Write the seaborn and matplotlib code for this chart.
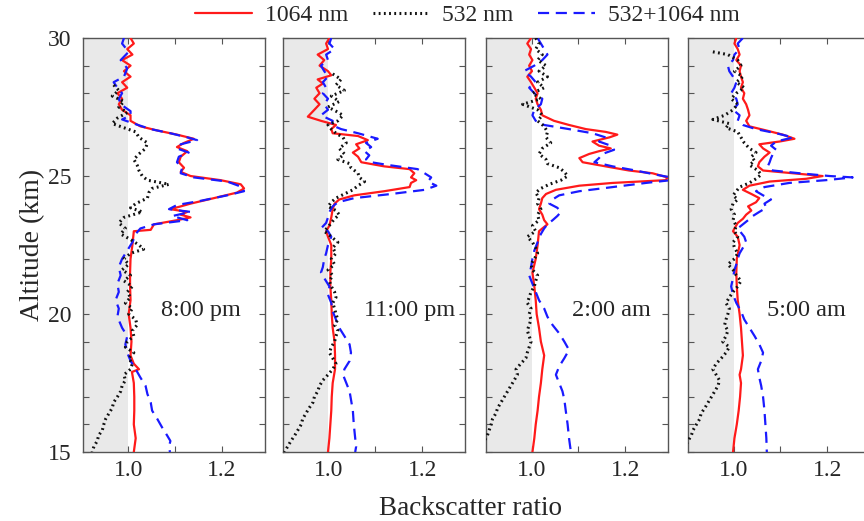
import matplotlib
matplotlib.use("Agg")
import matplotlib.pyplot as plt
from matplotlib.ticker import MultipleLocator, FixedLocator
import seaborn as sns

# ---- data: altitude (km) and backscatter ratio ----
times = ["8:00 pm", "11:00 pm", "2:00 am", "5:00 am"]

# 8:00 pm
alt_r1 = [30.0, 29.8, 29.6, 29.4, 29.2, 29.0, 28.8, 28.6, 28.4, 28.2, 28.0, 27.8, 27.6, 27.4, 27.2, 27.0,
          26.8, 26.65, 26.5, 26.35, 26.2, 26.05, 25.9, 25.7, 25.5, 25.3, 25.15, 25.0, 24.85, 24.7, 24.55,
          24.4, 24.2, 24.0, 23.9, 23.8, 23.7, 23.6, 23.5, 23.4, 23.25, 23.05, 23.0, 22.5, 22.0, 21.5, 21.0,
          20.5, 20.0, 19.5, 19.0, 18.5, 18.2, 18.0, 17.9, 17.5, 17.0, 16.5, 16.0, 15.5, 15.0]
br_r1 = [1.005, 1.012, 0.998, 1.009, 0.987, 1.005, 0.991, 1.005, 0.987, 0.998, 0.977, 0.987, 0.980, 0.987,
         1.005, 1.005, 1.026, 1.062, 1.104, 1.140, 1.119, 1.104, 1.126, 1.112, 1.108, 1.119, 1.112, 1.133,
         1.197, 1.240, 1.247, 1.232, 1.183, 1.133, 1.112, 1.090, 1.126, 1.112, 1.133, 1.104, 1.055, 1.048,
         1.012, 1.009, 1.005, 1.004, 1.004, 1.005, 1.001, 1.005, 1.007, 1.005, 1.012, 1.023, 1.008, 1.012,
         1.013, 1.013, 1.012, 1.016, 1.012]
alt_b1 = [30.0, 29.8, 29.5, 29.2, 28.9, 28.6, 28.4, 28.2, 28.0, 27.8, 27.6, 27.35, 27.2, 27.05, 26.9, 26.7,
          26.55, 26.4, 26.3, 26.15, 26.0, 25.85, 25.7, 25.5, 25.3, 25.1, 24.95, 24.8, 24.6, 24.45, 24.3,
          24.1, 23.95, 23.8, 23.7, 23.55, 23.4, 23.25, 23.1, 22.9, 22.6, 22.3, 22.0, 21.7, 21.4, 21.1, 20.8,
          20.5, 20.2, 19.9, 19.5, 19.2, 18.9, 18.6, 18.3, 18.0, 17.7, 17.4, 17.1, 16.8, 16.5, 16.2, 15.9,
          15.6, 15.4, 15.2, 15.0]
br_b1 = [0.991, 0.987, 1.001, 0.984, 0.998, 0.991, 0.969, 0.977, 0.987, 0.980, 0.984, 1.005, 1.005, 0.987,
         1.012, 1.048, 1.090, 1.126, 1.147, 1.112, 1.104, 1.129, 1.108, 1.104, 1.115, 1.112, 1.140, 1.211,
         1.243, 1.247, 1.211, 1.154, 1.104, 1.087, 1.133, 1.094, 1.126, 1.055, 1.026, 1.016, 1.009, 0.998,
         0.987, 0.980, 0.984, 0.977, 0.980, 0.973, 0.980, 0.977, 0.987, 0.998, 0.994, 0.998, 1.005, 1.016,
         1.026, 1.037, 1.041, 1.048, 1.051, 1.062, 1.072, 1.083, 1.090, 1.087, 1.089]
alt_k1 = [28.3, 28.1, 27.9, 27.7, 27.5, 27.3, 27.1, 26.9, 26.75, 26.6, 26.4, 26.2, 26.0, 25.8, 25.6, 25.4,
          25.2, 25.0, 24.85, 24.7, 24.55, 24.4, 24.2, 24.0, 23.85, 23.7, 23.5, 23.3, 23.1, 22.9, 22.7, 22.5,
          22.35, 22.2, 22.0, 21.8, 21.6, 21.4, 21.2, 21.0, 20.8, 20.6, 20.4, 20.2, 20.0, 19.8, 19.6, 19.4,
          19.2, 19.0, 18.8, 18.6, 18.4, 18.2, 18.0, 17.8, 17.6, 17.4, 17.2, 17.0, 16.8, 16.6, 16.4, 16.2,
          16.0, 15.8, 15.6, 15.4, 15.2, 15.0]
br_k1 = [0.969, 0.980, 0.966, 0.991, 0.980, 0.998, 0.977, 0.966, 0.991, 1.016, 1.023, 1.041, 1.037, 1.023,
         1.012, 1.019, 1.023, 1.030, 1.041, 1.087, 1.051, 1.044, 1.041, 1.016, 1.005, 1.030, 0.991, 0.980,
         0.994, 0.984, 1.005, 1.023, 1.033, 1.005, 0.991, 1.001, 0.987, 1.005, 0.991, 1.009, 0.998, 1.005,
         0.994, 1.009, 1.001, 1.016, 1.019, 1.009, 1.012, 0.998, 0.994, 1.012, 1.001, 1.009, 1.005, 0.991,
         0.994, 0.987, 0.984, 0.977, 0.969, 0.966, 0.959, 0.952, 0.948, 0.945, 0.937, 0.934, 0.927, 0.923]

# 11:00 pm
alt_r2 = [30.0, 29.8, 29.6, 29.4, 29.2, 29.0, 28.8, 28.65, 28.5, 28.35, 28.2, 28.0, 27.8, 27.6, 27.4, 27.15,
          27.0, 26.85, 26.7, 26.55, 26.45, 26.3, 26.15, 26.0, 25.85, 25.7, 25.5, 25.35, 25.25, 25.1, 24.95,
          24.85, 24.75, 24.6, 24.45, 24.3, 24.15, 24.0, 23.8, 23.5, 23.2, 23.0, 22.8, 22.5, 22.0, 21.5,
          21.0, 20.5, 20.0, 19.5, 19.0, 18.5, 18.0, 17.5, 17.0, 16.5, 16.0, 15.5, 15.0]
br_r2 = [1.002, 0.995, 0.999, 0.977, 0.991, 0.981, 0.999, 1.006, 0.977, 0.988, 0.974, 0.981, 0.970, 0.981,
         0.970, 0.956, 0.984, 1.016, 1.006, 1.009, 1.063, 1.084, 1.059, 1.066, 1.052, 1.063, 1.070, 1.119,
         1.173, 1.183, 1.176, 1.187, 1.176, 1.173, 1.119, 1.055, 1.023, 1.013, 1.009, 1.006, 1.002, 0.995,
         0.999, 1.006, 1.006, 1.004, 1.004, 1.006, 1.007, 1.009, 1.013, 1.014, 1.014, 1.009, 1.007, 1.006,
         1.004, 1.002, 0.999]
alt_b2 = [30.0, 29.8, 29.6, 29.4, 29.2, 29.0, 28.8, 28.6, 28.4, 28.2, 28.0, 27.8, 27.6, 27.4, 27.2, 27.0,
          26.85, 26.7, 26.55, 26.45, 26.35, 26.2, 26.05, 25.9, 25.75, 25.6, 25.5, 25.4, 25.25, 25.1, 24.95,
          24.8, 24.65, 24.5, 24.35, 24.2, 24.05, 23.9, 23.7, 23.5, 23.3, 23.1, 23.0, 22.8, 22.5, 22.2, 22.0,
          21.7, 21.5, 21.3, 21.0, 20.7, 20.4, 20.1, 19.8, 19.5, 19.2, 18.9, 18.6, 18.3, 18.0, 17.8, 17.5,
          17.2, 16.9, 16.5, 16.0, 15.5, 15.2, 15.0]
br_b2 = [1.006, 1.002, 1.013, 0.995, 0.999, 0.984, 0.991, 0.999, 0.988, 0.995, 0.988, 0.999, 0.991, 0.999,
         0.984, 1.009, 1.006, 1.027, 1.063, 1.084, 1.105, 1.080, 1.091, 1.077, 1.087, 1.080, 1.091, 1.127,
         1.190, 1.205, 1.219, 1.212, 1.230, 1.205, 1.134, 1.055, 1.020, 1.009, 1.002, 0.999, 0.995, 0.984,
         0.999, 1.006, 0.999, 0.995, 0.991, 0.988, 0.984, 0.991, 1.002, 0.999, 1.006, 1.009, 1.016, 1.023,
         1.034, 1.045, 1.048, 1.045, 1.034, 1.031, 1.038, 1.045, 1.048, 1.052, 1.054, 1.057, 1.059, 1.057]
alt_k2 = [28.7, 28.5, 28.3, 28.1, 27.9, 27.7, 27.5, 27.35, 27.2, 27.0, 26.85, 26.7, 26.55, 26.4, 26.2, 26.0,
          25.8, 25.6, 25.45, 25.3, 25.1, 24.95, 24.8, 24.65, 24.5, 24.35, 24.2, 24.05, 23.9, 23.75, 23.6,
          23.45, 23.3, 23.15, 23.0, 22.8, 22.6, 22.4, 22.2, 22.0, 21.8, 21.6, 21.4, 21.2, 21.0, 20.8, 20.6,
          20.4, 20.2, 20.0, 19.8, 19.6, 19.4, 19.2, 19.0, 18.8, 18.6, 18.4, 18.2, 18.0, 17.8, 17.6, 17.4,
          17.2, 17.0, 16.8, 16.6, 16.4, 16.2, 16.0, 15.8, 15.6, 15.4, 15.2, 15.0]
br_k2 = [1.009, 1.027, 1.016, 1.034, 1.006, 1.023, 0.999, 1.016, 1.031, 1.020, 0.999, 1.006, 1.016, 1.031,
         1.038, 1.023, 1.034, 1.020, 1.045, 1.048, 1.063, 1.066, 1.077, 1.063, 1.052, 1.034, 1.016, 1.006,
         0.999, 1.016, 1.023, 1.013, 1.006, 0.999, 0.991, 1.006, 1.020, 1.009, 1.016, 1.006, 1.013, 0.999,
         1.009, 1.002, 1.006, 1.013, 1.016, 1.009, 1.013, 1.016, 1.020, 1.013, 1.020, 1.016, 1.013, 1.006,
         1.002, 1.009, 1.016, 1.009, 0.999, 0.988, 0.981, 0.977, 0.970, 0.967, 0.959, 0.952, 0.945, 0.942,
         0.935, 0.928, 0.920, 0.913, 0.906]

# 2:00 am
alt_r3 = [30.0, 29.8, 29.6, 29.4, 29.2, 29.0, 28.8, 28.6, 28.4, 28.2, 28.0, 27.8, 27.6, 27.4, 27.2, 27.0,
          26.85, 26.7, 26.6, 26.5, 26.4, 26.25, 26.1, 26.0, 25.9, 25.8, 25.65, 25.5, 25.35, 25.2, 25.1,
          24.95, 24.85, 24.75, 24.65, 24.5, 24.35, 24.2, 24.0, 23.8, 23.6, 23.4, 23.25, 23.1, 23.0, 22.5,
          22.0, 21.5, 21.0, 20.5, 20.0, 19.5, 19.0, 18.5, 18.0, 17.5, 17.0, 16.5, 16.0, 15.5, 15.0]
br_r3 = [0.999, 0.991, 0.999, 0.995, 1.002, 0.995, 1.001, 0.991, 0.999, 1.006, 1.013, 1.009, 1.013, 1.020,
         1.023, 1.048, 1.080, 1.116, 1.158, 1.183, 1.166, 1.130, 1.144, 1.169, 1.144, 1.123, 1.102, 1.109,
         1.158, 1.208, 1.258, 1.290, 1.286, 1.173, 1.102, 1.052, 1.031, 1.023, 1.020, 1.016, 1.023, 1.027,
         1.034, 1.023, 1.016, 1.013, 1.009, 1.002, 1.006, 1.009, 1.011, 1.016, 1.020, 1.027, 1.023, 1.020,
         1.016, 1.013, 1.009, 1.006, 1.002]
alt_b3 = [30.0, 29.8, 29.6, 29.4, 29.2, 29.0, 28.8, 28.6, 28.4, 28.2, 28.0, 27.8, 27.6, 27.4, 27.2, 27.0,
          26.85, 26.7, 26.55, 26.4, 26.25, 26.1, 25.95, 25.8, 25.65, 25.5, 25.35, 25.2, 25.05, 24.95, 24.85,
          24.75, 24.6, 24.45, 24.3, 24.15, 24.0, 23.85, 23.7, 23.55, 23.4, 23.25, 23.1, 22.9, 22.6, 22.3,
          22.0, 21.7, 21.4, 21.1, 20.8, 20.5, 20.2, 19.9, 19.6, 19.3, 19.0, 18.7, 18.4, 18.1, 17.8, 17.5,
          17.2, 16.9, 16.5, 16.0, 15.5, 15.0]
br_b3 = [1.013, 1.020, 1.027, 1.034, 1.023, 1.006, 0.984, 0.999, 1.009, 0.995, 1.006, 1.023, 1.020, 1.006,
         1.002, 1.009, 1.027, 1.080, 1.130, 1.158, 1.144, 1.169, 1.176, 1.151, 1.144, 1.134, 1.173, 1.222,
         1.265, 1.297, 1.297, 1.244, 1.173, 1.102, 1.059, 1.045, 1.038, 1.055, 1.063, 1.055, 1.045, 1.034,
         1.027, 1.020, 1.013, 1.006, 1.002, 0.999, 0.995, 1.002, 1.009, 1.016, 1.027, 1.034, 1.045, 1.059,
         1.070, 1.080, 1.070, 1.059, 1.052, 1.059, 1.066, 1.070, 1.073, 1.077, 1.080, 1.084]
alt_k3 = [30.0, 29.8, 29.6, 29.4, 29.2, 29.0, 28.8, 28.6, 28.4, 28.2, 28.0, 27.8, 27.6, 27.4, 27.2, 27.0,
          26.8, 26.6, 26.4, 26.2, 26.0, 25.8, 25.6, 25.45, 25.3, 25.15, 25.0, 24.85, 24.7, 24.55, 24.4, 24.2,
          24.0, 23.8, 23.6, 23.4, 23.2, 23.0, 22.8, 22.6, 22.4, 22.2, 22.0, 21.8, 21.6, 21.4, 21.2, 21.0,
          20.8, 20.6, 20.4, 20.2, 20.0, 19.8, 19.6, 19.4, 19.2, 19.0, 18.8, 18.6, 18.4, 18.2, 18.0, 17.8,
          17.6, 17.4, 17.2, 17.0, 16.8, 16.6, 16.4, 16.2, 16.0, 15.8, 15.6, 15.4, 15.2, 15.0]
br_k3 = [1.009, 1.016, 1.009, 1.023, 1.013, 1.031, 1.016, 1.034, 1.013, 1.027, 1.002, 1.020, 0.981, 1.013,
         1.023, 1.013, 1.027, 1.034, 1.031, 1.041, 1.023, 1.016, 1.031, 1.034, 1.059, 1.070, 1.077, 1.063,
         1.038, 1.020, 1.009, 1.016, 1.013, 1.020, 1.013, 1.016, 1.002, 1.009, 0.991, 1.002, 1.009, 1.013,
         1.006, 0.999, 1.002, 1.013, 1.009, 1.006, 0.999, 0.995, 0.991, 0.999, 0.995, 0.999, 0.995, 0.991,
         0.995, 0.999, 0.995, 0.991, 0.988, 0.977, 0.967, 0.970, 0.963, 0.956, 0.949, 0.942, 0.935, 0.928,
         0.924, 0.917, 0.914, 0.910, 0.906, 0.899, 0.896, 0.892]

# 5:00 am
alt_r4 = [30.0, 29.8, 29.6, 29.4, 29.2, 29.0, 28.8, 28.6, 28.4, 28.2, 28.0, 27.8, 27.6, 27.4, 27.2, 27.0,
          26.8, 26.65, 26.5, 26.35, 26.25, 26.15, 26.0, 25.85, 25.7, 25.5, 25.35, 25.2, 25.1, 25.0, 24.9,
          24.8, 24.65, 24.5, 24.35, 24.2, 24.05, 23.9, 23.75, 23.6, 23.45, 23.3, 23.1, 23.0, 22.8, 22.5,
          22.0, 21.5, 21.0, 20.5, 20.0, 19.5, 19.0, 18.5, 18.0, 17.8, 17.5, 17.0, 16.5, 16.0, 15.5, 15.0]
br_r4 = [1.006, 1.002, 1.009, 1.013, 1.006, 1.016, 1.013, 1.016, 1.020, 1.016, 1.023, 1.020, 1.027, 1.031,
         1.034, 1.027, 1.034, 1.070, 1.105, 1.130, 1.098, 1.055, 1.063, 1.077, 1.066, 1.055, 1.052, 1.063,
         1.127, 1.190, 1.155, 1.077, 1.034, 1.020, 1.038, 1.055, 1.048, 1.031, 1.038, 1.027, 1.020, 1.009,
         1.002, 0.999, 1.009, 1.013, 1.007, 1.006, 1.007, 1.009, 1.013, 1.016, 1.018, 1.020, 1.016, 1.013,
         1.016, 1.014, 1.011, 1.007, 1.002, 0.999]
alt_b4 = [30.0, 29.8, 29.6, 29.4, 29.2, 29.0, 28.8, 28.6, 28.4, 28.2, 28.0, 27.8, 27.6, 27.4, 27.2, 27.0,
          26.85, 26.7, 26.55, 26.4, 26.25, 26.1, 25.95, 25.8, 25.65, 25.5, 25.35, 25.2, 25.1, 25.0, 24.95,
          24.85, 24.75, 24.6, 24.45, 24.3, 24.15, 24.0, 23.85, 23.7, 23.55, 23.4, 23.25, 23.1, 22.95, 22.8,
          22.6, 22.4, 22.2, 22.0, 21.8, 21.6, 21.3, 21.0, 20.7, 20.4, 20.1, 19.8, 19.5, 19.2, 18.9, 18.6,
          18.3, 18.0, 17.7, 17.4, 17.0, 16.5, 16.0, 15.5, 15.0]
br_b4 = [1.020, 1.009, 1.013, 1.002, 0.999, 0.988, 0.991, 0.999, 1.006, 1.002, 0.995, 1.006, 1.009, 0.999,
         1.013, 1.009, 1.020, 1.048, 1.091, 1.127, 1.091, 1.080, 1.091, 1.084, 1.080, 1.077, 1.073, 1.084,
         1.141, 1.205, 1.254, 1.197, 1.119, 1.066, 1.048, 1.063, 1.080, 1.066, 1.070, 1.055, 1.041, 1.031,
         1.020, 1.009, 1.016, 1.023, 1.027, 1.020, 1.013, 1.009, 1.006, 1.002, 0.999, 0.995, 0.999, 1.006,
         1.016, 1.023, 1.034, 1.045, 1.055, 1.063, 1.059, 1.052, 1.055, 1.059, 1.063, 1.066, 1.068, 1.070,
         1.071]
alt_k4 = [29.5, 29.4, 29.2, 29.0, 28.8, 28.6, 28.4, 28.2, 28.0, 27.8, 27.6, 27.4, 27.2, 27.05, 26.9, 26.75,
          26.6, 26.4, 26.2, 26.0, 25.85, 25.7, 25.55, 25.4, 25.2, 25.05, 24.9, 24.75, 24.6, 24.45, 24.3,
          24.15, 24.0, 23.8, 23.6, 23.4, 23.2, 23.0, 22.8, 22.6, 22.4, 22.2, 22.0, 21.8, 21.6, 21.4, 21.2,
          21.0, 20.8, 20.6, 20.4, 20.2, 20.0, 19.8, 19.6, 19.4, 19.2, 19.0, 18.8, 18.6, 18.4, 18.2, 18.0,
          17.8, 17.6, 17.4, 17.2, 17.0, 16.8, 16.6, 16.4, 16.2, 16.0, 15.8, 15.6, 15.4, 15.2, 15.0]
br_k4 = [0.956, 0.988, 1.009, 1.016, 1.002, 1.020, 1.006, 1.023, 1.006, 0.995, 1.009, 0.999, 0.981, 0.956,
         0.991, 0.984, 1.009, 1.016, 1.023, 1.034, 1.048, 1.038, 1.045, 1.034, 1.052, 1.059, 1.048, 1.034,
         1.013, 1.006, 0.999, 1.009, 0.999, 0.995, 1.002, 0.999, 1.006, 1.002, 1.009, 0.999, 1.002, 1.009,
         1.002, 0.988, 0.999, 1.006, 1.016, 1.009, 0.999, 0.991, 0.984, 0.991, 0.988, 0.984, 0.981, 0.988,
         0.984, 0.977, 0.991, 0.984, 0.974, 0.963, 0.956, 0.963, 0.970, 0.967, 0.960, 0.953, 0.946, 0.939,
         0.931, 0.928, 0.921, 0.914, 0.910, 0.903, 0.896, 0.889]

red_1064 = [(alt_r1, br_r1), (alt_r2, br_r2), (alt_r3, br_r3), (alt_r4, br_r4)]
blue_sum = [(alt_b1, br_b1), (alt_b2, br_b2), (alt_b3, br_b3), (alt_b4, br_b4)]
black_532 = [(alt_k1, br_k1), (alt_k2, br_k2), (alt_k3, br_k3), (alt_k4, br_k4)]

sns.set_theme(style="ticks")
plt.rcParams["font.family"] = ["Liberation Serif", "DejaVu Serif"]

fig = plt.figure(figsize=(8.64, 5.21), dpi=100)
lefts = [0.0957, 0.3275, 0.5625, 0.7963]
xlo, xhi = 0.903, 1.292
label_x = [0.648, 0.696, 0.685, 0.647]
frame_col = "#555555"

axes = []
for i in range(4):
    ax = fig.add_axes([lefts[i], 0.1324, 0.2112, 0.7946])
    axes.append(ax)
    ax.axvspan(xlo, 1.0, color="#e9e9e9", lw=0, zorder=0)

    alt, br = red_1064[i]
    sns.lineplot(x=br, y=alt, sort=False, estimator=None, ax=ax, color="#ff1a1a",
                 linewidth=1.6, label="1064 nm", zorder=3)
    alt, br = blue_sum[i]
    sns.lineplot(x=br, y=alt, sort=False, estimator=None, ax=ax, color="#1a1aff",
                 linewidth=1.6, linestyle=(0, (5, 3)), label="532+1064 nm", zorder=4)
    alt, br = black_532[i]
    sns.lineplot(x=br, y=alt, sort=False, estimator=None, ax=ax, color="#111111",
                 linewidth=2.2, linestyle=(0, (0.6, 1.1)), label="532 nm", zorder=5)
    if ax.get_legend() is not None:
        ax.get_legend().remove()

    ax.set_xlim(xlo, xhi)
    ax.set_ylim(15, 30)
    ax.xaxis.set_major_locator(FixedLocator([1.0, 1.1, 1.2]))
    ax.set_xticklabels(["1.0", "", "1.2"])
    ax.yaxis.set_major_locator(MultipleLocator(5))
    ax.yaxis.set_minor_locator(MultipleLocator(1))
    ax.tick_params(which="both", direction="in", top=True, right=True, length=4,
                   width=0.8, color=frame_col, labelsize=17)
    ax.tick_params(axis="x", pad=6)
    ax.tick_params(axis="y", pad=8)
    if i > 0:
        ax.set_yticklabels([])
    for sp in ax.spines.values():
        sp.set_color(frame_col)
        sp.set_linewidth(1.0)
    ax.set_xlabel("")
    ax.set_ylabel("")
    ax.text(label_x[i], 0.343, times[i], transform=ax.transAxes, ha="center",
            va="center", fontsize=17.5)

axes[0].set_ylabel("Altitude (km)", fontsize=20, labelpad=2)
fig.text(0.544, 0.024, "Backscatter ratio", ha="center", va="center", fontsize=19.5)

handles, labels = axes[0].get_legend_handles_labels()
order = [labels.index(l) for l in ["1064 nm", "532 nm", "532+1064 nm"]]
fig.legend([handles[j] for j in order], [labels[j] for j in order], loc="center",
           bbox_to_anchor=(0.541, 0.970), ncol=3, frameon=False, fontsize=17,
           handlelength=2.4, columnspacing=1.05, handletextpad=0.55)

fig.savefig("out.png", dpi=100)
